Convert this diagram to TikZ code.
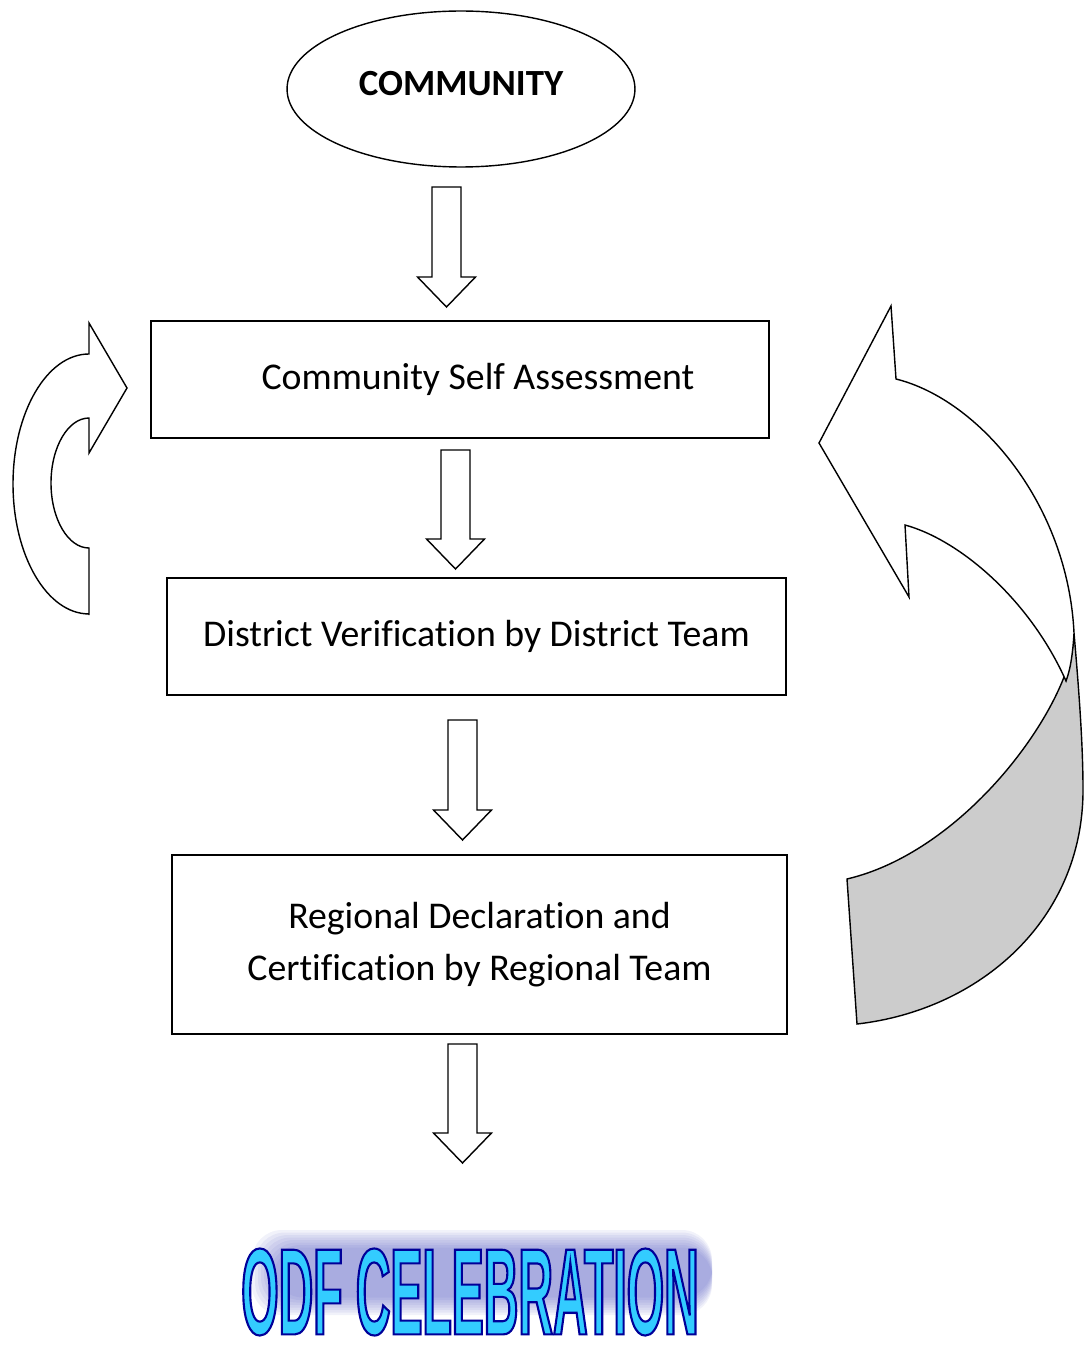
\documentclass[tikz,border=0pt]{standalone}
\usepackage{fontspec}
\setmainfont{Carlito}[Ligatures=NoCommon]
\newfontfamily\odffont{Liberation Sans}[FakeStretch=0.39]
\usetikzlibrary{shapes.geometric}
\definecolor{odfcyan}{HTML}{33CCFF}
\definecolor{odfblue}{HTML}{000099}
\definecolor{odfshadow}{HTML}{3D44B8}
\definecolor{ribbongray}{HTML}{CCCCCC}
\tikzset{
  stage/.style={draw, rectangle, line width=0.8pt, minimum height=2.34cm,
    font=\fontsize{21.5}{30}\selectfont, align=center},
  flowarrow/.style={draw, line width=0.8pt, fill=white},
  turnarrow/.style={draw, line width=0.8pt, fill=white},
}
\begin{document}
\begin{tikzpicture}[x=0.02cm,y=0.02cm]
\useasboundingbox (0,0) rectangle (1084,-1351);
\node[draw, ellipse, line width=0.8pt, minimum width=6.96cm, minimum height=3.12cm,
  font=\fontsize{21}{25}\selectfont\bfseries] (comm) at (461,-89) {\raisebox{0.24cm}{COMMUNITY}};
\node[stage, minimum width=12.36cm] (self) at (460,-379.5) {\hspace*{0.72cm}Community Self Assessment};
\node[stage, minimum width=12.38cm] (district) at (476.5,-636.5) {District Verification by District Team};
\node[stage, minimum width=12.3cm, minimum height=3.58cm] (regional) at (479.5,-944.5)
  {Regional Declaration and\\Certification by Regional Team};
% arrows down
\foreach \x/\ya/\yb in {446.5/187/307, 455.5/450/569, 462.5/720/840, 462.5/1044/1163}
  \draw[flowarrow] (\x-14.5,-\ya) -- (\x+14.5,-\ya) -- (\x+14.5,-\yb+30) -- (\x+29,-\yb+30)
    -- (\x,-\yb) -- (\x-29,-\yb+30) -- (\x-14.5,-\yb+30) -- cycle;
% left turn arrow
\draw[turnarrow] (89,-615) -- (89,-548) arc[start angle=270, end angle=90, x radius=0.76cm, y radius=1.3cm]
  -- (89,-453) -- (127,-388) -- (89,-323) -- (89,-354)
  arc[start angle=90, end angle=270, x radius=1.52cm, y radius=2.6cm] -- cycle;
% right turn arrow, back of the ribbon
\draw[turnarrow, fill=ribbongray] (847,-879) .. controls (970,-850) and (1074,-700) .. (1074,-633)
  .. controls (1078,-680) and (1083,-740) .. (1083,-790)
  .. controls (1083,-920) and (980,-1010) .. (857,-1024) -- cycle;
\draw[turnarrow] (819,-443) -- (891,-306) -- (896,-379)
  .. controls (980,-400) and (1068,-505) .. (1074,-633)
  .. controls (1073,-650) and (1071,-668) .. (1066,-681)
  .. controls (1030,-600) and (960,-540) .. (905,-525) -- (909,-597) -- cycle;
% ODF celebration
\foreach \i in {0,...,7}
  \fill[odfshadow, opacity=0.07, rounded corners=0.6cm] (252+3*\i,-1230-2.5*\i) rectangle (712,-1315+2.5*\i);
\node[inner sep=0pt, font=\odffont\bfseries\fontsize{70}{70}\selectfont] (odf) at (470,-1292)
  {\color{odfcyan}\special{pdf:literal direct 2 Tr 0 0 0.6 RG 1.2 w}ODF CELEBRATION\special{pdf:literal direct 0 Tr}};
\end{tikzpicture}
\end{document}
